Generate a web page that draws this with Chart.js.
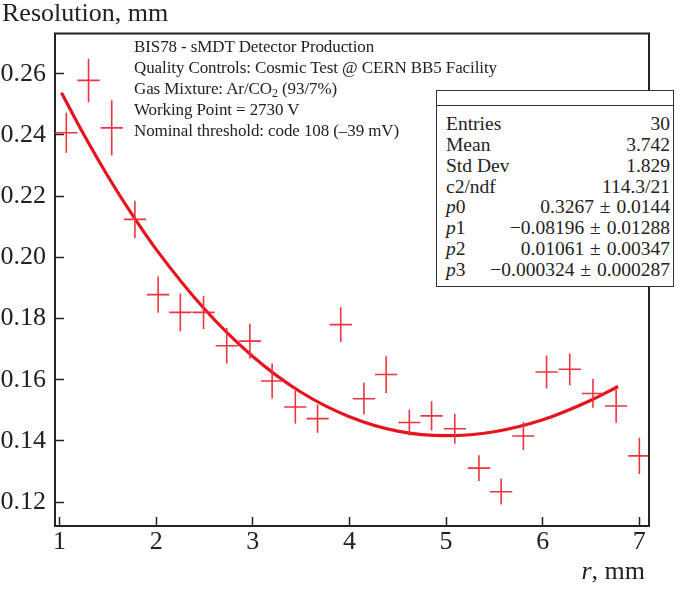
<!DOCTYPE html>
<html>
<head>
<meta charset="utf-8">
<script src="https://cdn.jsdelivr.net/npm/chart.js@4.4.1/dist/chart.umd.min.js"></script>
<style>
  body { margin: 0; background: #fff; }
  #wrap { position: relative; width: 685px; height: 589px; font-family: "Liberation Serif", serif; color: #222; }
  #wrap canvas { position: absolute; left: 0; top: 0; }
  .axis-title { position: absolute; font-size: 26px; line-height: 26px; white-space: nowrap; }
  #info { position: absolute; left: 134px; top: 36px; font-size: 17px; line-height: 21px; white-space: nowrap; letter-spacing: -0.1px; }
  #stats { position: absolute; left: 436px; top: 90px; width: 236px; height: 195px; background: #fff;
           border: 1.5px solid #333; font-size: 19.5px; line-height: 20.86px; }
  #stats .head { height: 14px; border-bottom: 1.5px solid #333; margin-bottom: 8px; }
  #stats .row { display: flex; justify-content: space-between; padding: 0 3px 0 9px; white-space: nowrap; }
  .pm { margin: 0 1px; }
  sub { font-size: 12px; vertical-align: -3px; line-height: 0; }
</style>
</head>
<body>
<div id="wrap">
  <canvas id="chart" width="685" height="589"></canvas>
  <div class="axis-title" style="left:2px; top:0px;">Resolution, mm</div>
  <div class="axis-title" style="right:40px; top:558px;"><i>r</i>, mm</div>
  <div id="info">
    BIS78 - sMDT Detector Production<br>
    Quality Controls: Cosmic Test @ CERN BB5 Facility<br>
    Gas Mixture: Ar/CO<sub>2</sub> (93/7%)<br>
    Working Point = 2730 V<br>
    Nominal threshold: code 108 (–39 mV)
  </div>
  <div id="stats">
    <div class="head"></div>
    <div class="row"><span>Entries</span><span>30</span></div>
    <div class="row"><span>Mean</span><span>3.742</span></div>
    <div class="row"><span>Std Dev</span><span>1.829</span></div>
    <div class="row"><span>c2/ndf</span><span>114.3/21</span></div>
    <div class="row"><span><i>p</i>0</span><span>0.3267 <span class="pm">±</span> 0.0144</span></div>
    <div class="row"><span><i>p</i>1</span><span>−0.08196 <span class="pm">±</span> 0.01288</span></div>
    <div class="row"><span><i>p</i>2</span><span>0.01061 <span class="pm">±</span> 0.00347</span></div>
    <div class="row"><span><i>p</i>3</span><span>−0.000324 <span class="pm">±</span> 0.000287</span></div>
  </div>
</div>
<script>
// measured points (bin centre r, resolution, error)
const binR = [1.07, 1.30, 1.54, 1.78, 2.02, 2.25, 2.49, 2.73, 2.97, 3.20, 3.44, 3.67, 3.91,
              4.15, 4.38, 4.62, 4.85, 5.09, 5.34, 5.57, 5.80, 6.04, 6.28, 6.52, 6.76, 7.00];
const resolution = [0.2407, 0.2578, 0.2423, 0.2124, 0.1878, 0.1820, 0.1820, 0.1711, 0.1726, 0.1596,
                    0.1511, 0.1473, 0.1780, 0.1538, 0.1617, 0.1460, 0.1482, 0.1440, 0.1311, 0.1234,
                    0.1416, 0.1625, 0.1634, 0.1555, 0.1514, 0.1351];
const resErr = [0.0065, 0.0071, 0.0090, 0.0061, 0.0059, 0.0062, 0.0054, 0.0058, 0.0057, 0.0057,
                0.0054, 0.0046, 0.0057, 0.0052, 0.0060, 0.0042, 0.0048, 0.0049, 0.0042, 0.0042,
                0.0046, 0.0054, 0.0052, 0.0047, 0.0055, 0.0059];
const binHalfWidth = 0.115;

// fitted curve
const fitR = [1.02, 1.25, 1.5, 1.75, 2, 2.5, 3, 3.5, 4, 4.5, 5, 5.5, 6, 6.5, 6.78];
const fitRes = [0.2538, 0.2402, 0.2265, 0.2140, 0.2026, 0.1831, 0.1676, 0.1559, 0.1479,
                0.1432, 0.1417, 0.1430, 0.1469, 0.1533, 0.1578];

const xTicks = [1, 2, 3, 4, 5, 6, 7];
const yTicks = [0.12, 0.14, 0.16, 0.18, 0.20, 0.22, 0.24, 0.26];

const axisColor = '#222';

// draws the crosses (x bin width, y error) through the scales
const crossPlugin = {
  id: 'crosses',
  afterDatasetsDraw(chart) {
    const { ctx, chartArea, scales } = chart;
    const ds = chart.data.datasets[1];
    ctx.save();
    ctx.beginPath();
    ctx.rect(chartArea.left, chartArea.top, chartArea.right - chartArea.left, chartArea.bottom - chartArea.top);
    ctx.clip();
    ctx.strokeStyle = '#ee3340';
    ctx.lineWidth = 1.6;
    ds.data.forEach((p, i) => {
      const e = resErr[i];
      const x0 = scales.x.getPixelForValue(p.x - binHalfWidth);
      const x1 = scales.x.getPixelForValue(p.x + binHalfWidth);
      const xc = scales.x.getPixelForValue(p.x);
      const yc = scales.y.getPixelForValue(p.y);
      const y0 = scales.y.getPixelForValue(p.y - e);
      const y1 = scales.y.getPixelForValue(p.y + e);
      ctx.beginPath();
      ctx.moveTo(x0, yc); ctx.lineTo(x1, yc);
      ctx.moveTo(xc, y0); ctx.lineTo(xc, y1);
      ctx.stroke();
    });
    ctx.restore();
  }
};

// top + right edges of the frame
const framePlugin = {
  id: 'frame',
  afterDraw(chart) {
    const { ctx, chartArea } = chart;
    ctx.save();
    ctx.strokeStyle = axisColor;
    ctx.lineWidth = 2;
    ctx.beginPath();
    ctx.moveTo(chartArea.left - 1, chartArea.top);
    ctx.lineTo(chartArea.right, chartArea.top);
    ctx.lineTo(chartArea.right, chartArea.bottom + 1);
    ctx.stroke();
    ctx.restore();
  }
};

new Chart(document.getElementById('chart'), {
  type: 'scatter',
  data: {
    datasets: [
      {
        type: 'line',
        data: fitR.map((r, i) => ({ x: r, y: fitRes[i] })),
        borderColor: '#e5141f',
        borderWidth: 3.2,
        pointRadius: 0,
        fill: false,
        cubicInterpolationMode: 'monotone'
      },
      {
        data: binR.map((r, i) => ({ x: r, y: resolution[i] })),
        pointRadius: 0,
        showLine: false
      }
    ]
  },
  options: {
    responsive: false,
    animation: false,
    layout: { padding: { left: 0, top: 33, right: 36, bottom: 0 } },
    plugins: { legend: { display: false }, tooltip: { enabled: false } },
    scales: {
      x: {
        type: 'linear',
        min: 0.953,
        max: 7.10,
        afterFit(scale) { scale.height = 63; },
        afterBuildTicks(scale) { scale.ticks = xTicks.map(v => ({ value: v })); },
        border: { color: axisColor, width: 2 },
        grid: { drawOnChartArea: false, drawTicks: true, tickLength: -9, tickWidth: 1.5, tickColor: axisColor },
        ticks: {
          color: axisColor,
          padding: 10,
          font: { family: 'Liberation Serif', size: 26 },
          callback: v => String(v)
        }
      },
      y: {
        type: 'linear',
        min: 0.1122,
        max: 0.2731,
        afterFit(scale) { scale.width = 55; },
        afterBuildTicks(scale) { scale.ticks = yTicks.map(v => ({ value: v })); },
        border: { color: axisColor, width: 2 },
        grid: { drawOnChartArea: false, drawTicks: true, tickLength: -9, tickWidth: 1.5, tickColor: axisColor },
        ticks: {
          color: axisColor,
          padding: 18,
          font: { family: 'Liberation Serif', size: 26 },
          callback: v => v.toFixed(2)
        }
      }
    }
  },
  plugins: [crossPlugin, framePlugin]
});
</script>
</body>
</html>
